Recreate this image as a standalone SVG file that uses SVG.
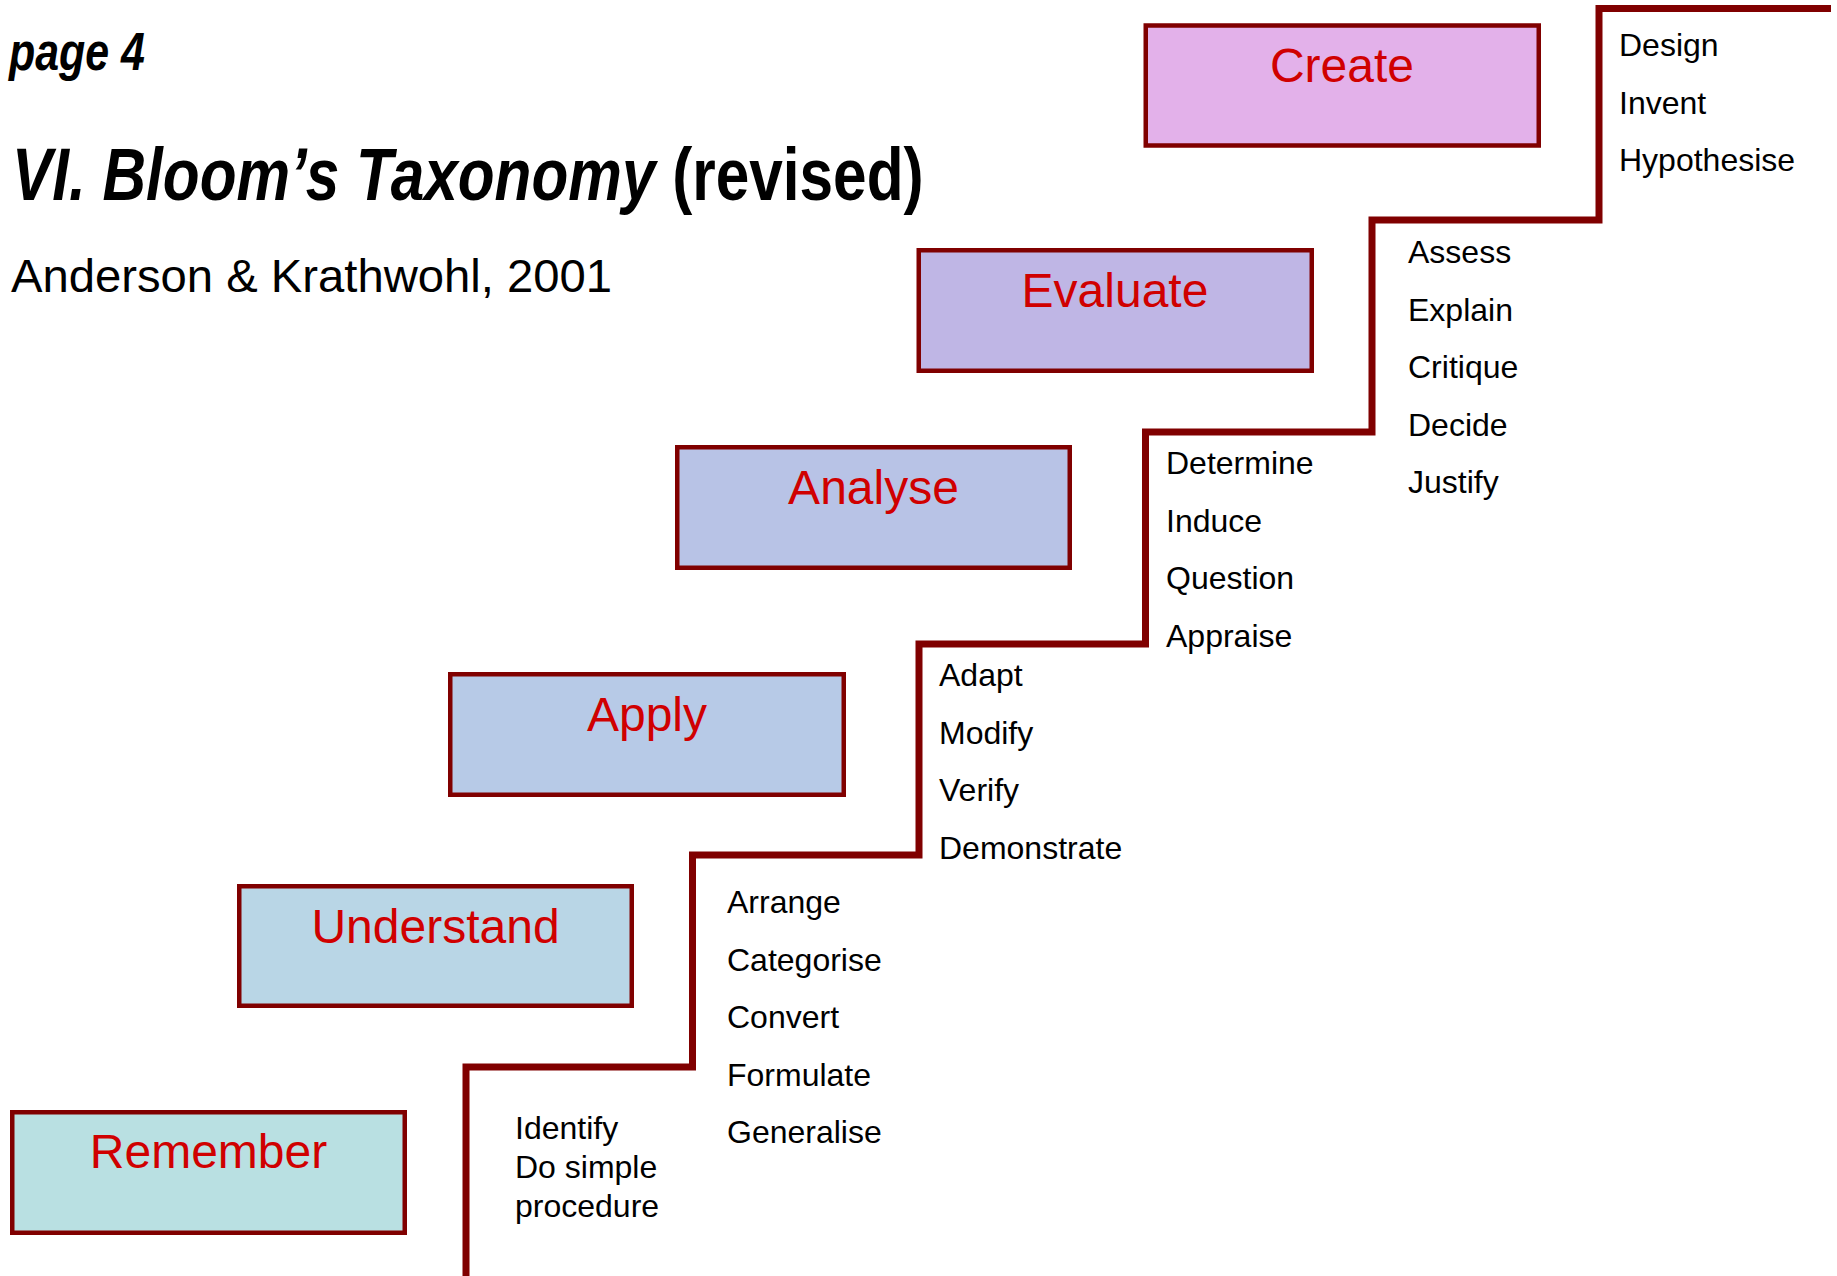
<svg xmlns="http://www.w3.org/2000/svg" width="1837" height="1276" viewBox="0 0 1837 1276">
<style>
  text { font-family: "Liberation Sans", Arial, sans-serif; }
  .box { stroke: #800000; stroke-width: 4.5; }
  .lbl { fill: #D00000; font-size: 48px; text-anchor: middle; }
  .verb { fill: #000; font-size: 32px; }
  .stair { fill: none; stroke: #800000; stroke-width: 7; stroke-linejoin: miter; }
</style>
<rect width="1837" height="1276" fill="#ffffff"/>
<g id="header">
  <text x="9" y="70" font-size="53" font-weight="bold" font-style="italic" textLength="136" lengthAdjust="spacingAndGlyphs">page 4</text>
  <text transform="translate(12,200) scale(0.815,1)" font-size="74" font-weight="bold"><tspan font-style="italic">VI. Bloom’s Taxonomy</tspan> (revised)</text>
  <text x="11" y="292" font-size="47" textLength="601" lengthAdjust="spacingAndGlyphs">Anderson &amp; Krathwohl, 2001</text>
</g>
<g id="connectors">
  <path class="stair" d="M466,1276 V1067 H692.5 V855 H919 V644 H1145.5 V432 H1372 V220 H1599 V8.5 H1831"/>
</g>
<g id="node-create">
  <rect class="box" x="1145.75" y="25.5" width="393" height="120" fill="#E3B1EA"/>
  <text class="lbl" x="1342" y="82">Create</text>
</g>
<g id="node-evaluate">
  <rect class="box" x="918.75" y="250.25" width="393" height="120.5" fill="#BFB6E5"/>
  <text class="lbl" x="1115" y="307">Evaluate</text>
</g>
<g id="node-analyse">
  <rect class="box" x="677.25" y="447.25" width="392.5" height="120.5" fill="#B8C3E6"/>
  <text class="lbl" x="873.5" y="504">Analyse</text>
</g>
<g id="node-apply">
  <rect class="box" x="450.25" y="674.25" width="393.5" height="120.5" fill="#B7CAE7"/>
  <text class="lbl" x="647" y="731">Apply</text>
</g>
<g id="node-understand">
  <rect class="box" x="239.25" y="886.25" width="392.5" height="119.5" fill="#B9D6E6"/>
  <text class="lbl" x="435.5" y="943">Understand</text>
</g>
<g id="node-remember">
  <rect class="box" x="12.25" y="1112.25" width="392.5" height="120.5" fill="#B9E0E2"/>
  <text class="lbl" x="208.5" y="1168">Remember</text>
</g>
<g id="verbs-create">
  <text class="verb" x="1619" y="56">Design</text>
  <text class="verb" x="1619" y="113.5">Invent</text>
  <text class="verb" x="1619" y="171">Hypothesise</text>
</g>
<g id="verbs-evaluate">
  <text class="verb" x="1408" y="263">Assess</text>
  <text class="verb" x="1408" y="320.5">Explain</text>
  <text class="verb" x="1408" y="378">Critique</text>
  <text class="verb" x="1408" y="435.5">Decide</text>
  <text class="verb" x="1408" y="493">Justify</text>
</g>
<g id="verbs-analyse">
  <text class="verb" x="1166" y="474">Determine</text>
  <text class="verb" x="1166" y="531.5">Induce</text>
  <text class="verb" x="1166" y="589">Question</text>
  <text class="verb" x="1166" y="646.5">Appraise</text>
</g>
<g id="verbs-apply">
  <text class="verb" x="939" y="686">Adapt</text>
  <text class="verb" x="939" y="743.5">Modify</text>
  <text class="verb" x="939" y="801">Verify</text>
  <text class="verb" x="939" y="858.5">Demonstrate</text>
</g>
<g id="verbs-understand">
  <text class="verb" x="727" y="913">Arrange</text>
  <text class="verb" x="727" y="970.5">Categorise</text>
  <text class="verb" x="727" y="1028">Convert</text>
  <text class="verb" x="727" y="1085.5">Formulate</text>
  <text class="verb" x="727" y="1143">Generalise</text>
</g>
<g id="verbs-remember">
  <text class="verb" x="515" y="1139">Identify</text>
  <text class="verb" x="515" y="1178">Do simple</text>
  <text class="verb" x="515" y="1217">procedure</text>
</g>
</svg>
